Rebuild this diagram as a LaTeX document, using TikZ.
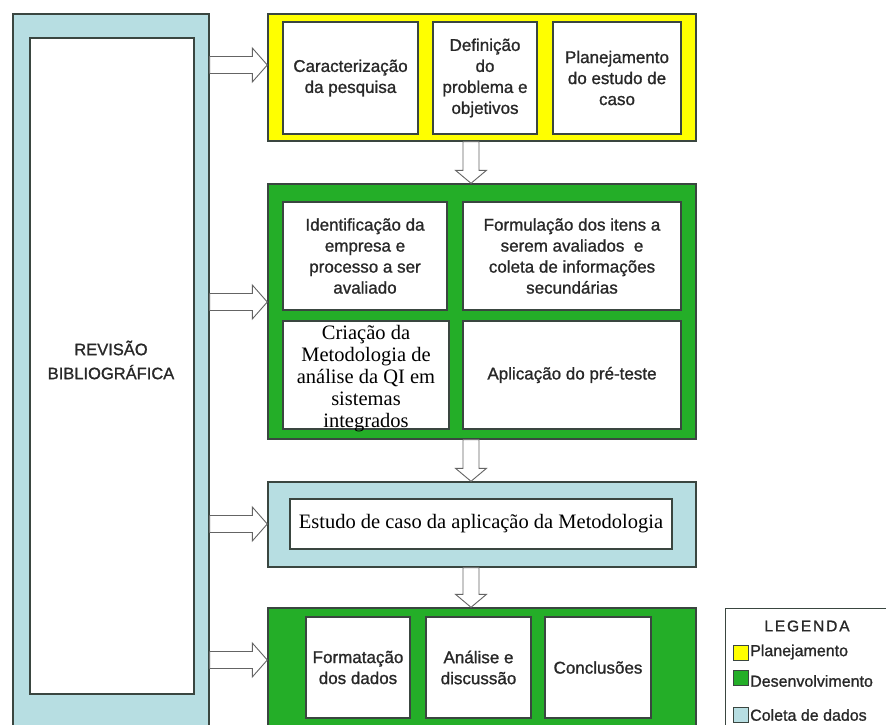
\documentclass[tikz,border=0pt]{standalone}
\usepackage{fontspec}
\setmainfont{Liberation Sans}
\newfontfamily\grosso[FakeBold=1.1]{Liberation Sans}
\newfontfamily\serifa{Liberation Serif}
\usepackage{xcolor}
\usetikzlibrary{positioning,calc}

\definecolor{amarelo}{RGB}{255,255,0}
\definecolor{verde}{RGB}{36,174,40}
\definecolor{azulclaro}{RGB}{183,222,226}
\definecolor{borda}{RGB}{58,70,64}
\definecolor{cinzaseta}{RGB}{100,100,100}
\definecolor{texto}{RGB}{40,40,40}

% seta larga para a direita (inicio, ponta)
\newcommand{\setadir}[2]{%
  \draw[seta] let \p1=(#1), \p2=(#2) in
    (\x1,\y1+8.5pt) -- (\x2-15pt,\y1+8.5pt) -- (\x2-15pt,\y1+17pt) -- (\x2,\y1)
    -- (\x2-15pt,\y1-17pt) -- (\x2-15pt,\y1-8.5pt) -- (\x1,\y1-8.5pt) -- cycle;}
% seta larga para baixo (inicio, ponta)
\newcommand{\setabaixo}[2]{%
  \draw[seta] let \p1=(#1), \p2=(#2) in
    (\x1-8pt,\y1) -- (\x1-8pt,\y2+13pt) -- (\x1-15.5pt,\y2+13pt) -- (\x1,\y2)
    -- (\x1+15.5pt,\y2+13pt) -- (\x1+8pt,\y2+13pt) -- (\x1+8pt,\y1) -- cycle;}

\begin{document}
\begin{tikzpicture}[x=1pt,y=-1pt, line join=miter,
    font=\grosso\fontsize{17}{21}\selectfont]
  \useasboundingbox (0,0) rectangle (886,725);
  \clip (0,0) rectangle (886,725);
  \fill[white] (0,0) rectangle (886,725);

  % ===== estilos =====
  \tikzset{externo/.style={draw=borda, line width=1.4pt, inner sep=0pt},
           interno/.style={draw=borda, fill=white, line width=1.4pt, inner sep=0pt,
                           align=center, text=texto, minimum height=112pt},
           serif/.style={font=\serifa\fontsize{20.5}{22}\selectfont, text=black},
           seta/.style={draw=cinzaseta, fill=white, line width=0.9pt},
           amostra/.style={draw=borda, line width=0.9pt, minimum size=15pt, inner sep=0pt},
           legtexto/.style={anchor=west, inner sep=0pt, text=texto,
                            font=\grosso\fontsize{16}{18}\selectfont}}

  % ===== revisao bibliografica =====
  \node[externo, fill=azulclaro, minimum width=196pt, minimum height=731pt] (rev) at (111,379.5) {};
  \node[interno, minimum width=164pt, minimum height=656pt] (revi) at (112,366) {};
  \node[align=center, text=texto, font=\grosso\fontsize{16.5}{24}\selectfont] (revt) at (111,360)
    {REVISÃO\\BIBLIOGRÁFICA};

  % ===== planejamento =====
  \node[externo, fill=amarelo, minimum width=428pt, minimum height=127pt] (yel) at (482,77.5) {};
  \node[interno, minimum width=135pt] (c1) at (350.5,78) {Caracterização\\da pesquisa};
  \node[interno, minimum width=104pt] (c2) at (485,78) {Definição\\do\\problema e\\objetivos};
  \node[interno, minimum width=128pt] (c3) at (617,78) {Planejamento\\do estudo de\\caso};

  % ===== desenvolvimento 1 =====
  \node[externo, fill=verde, minimum width=428pt, minimum height=255pt] (gr1) at (482,311.5) {};
  \node[interno, minimum width=164pt, minimum height=108pt] (i1) at (365,256)
    {Identificação da\\empresa e\\processo a ser\\avaliado};
  \node[interno, minimum width=218pt, minimum height=108pt] (i2) at (572,256)
    {Formulação dos itens a\\serem avaliados \ e\\coleta de informações\\secundárias};
  \node[interno, minimum width=166pt, minimum height=108pt] (i3) at (366,375) {};
  \node[serif, align=center, inner sep=0pt] (i3t) at (366,378.5)
    {Criação da\\Metodologia de\\análise da QI em\\sistemas\\integrados};
  \node[interno, minimum width=218pt, minimum height=108pt] (i4) at (572,375)
    {Aplicação do pré-teste};

  % ===== coleta de dados =====
  \node[externo, fill=azulclaro, minimum width=428pt, minimum height=85pt] (lb) at (482,524.5) {};
  \node[interno, serif, minimum width=382pt, minimum height=50pt] (lbi) at (481,524)
    {Estudo de caso da aplicação da Metodologia};

  % ===== desenvolvimento 2 =====
  \node[externo, fill=verde, minimum width=428pt, minimum height=137pt] (gr2) at (482,676.5) {};
  \node[interno, minimum width=104pt, minimum height=101pt] (f1) at (358,667.5) {Formatação\\dos dados};
  \node[interno, minimum width=105pt, minimum height=101pt] (f2) at (478.5,667.5) {Análise e\\discussão};
  \node[interno, minimum width=106pt, minimum height=101pt] (f3) at (598,667.5) {Conclusões};

  % ===== setas =====
  \coordinate (s1) at (0,65);
  \coordinate (s2) at (0,302);
  \coordinate (s3) at (0,524);
  \coordinate (s4) at (0,660);
  \coordinate (eixo) at (471,0);
  \setadir{rev.east |- s1}{yel.west |- s1}
  \setadir{rev.east |- s2}{gr1.west |- s2}
  \setadir{rev.east |- s3}{lb.west |- s3}
  \setadir{rev.east |- s4}{gr2.west |- s4}
  \setabaixo{eixo |- yel.south}{eixo |- gr1.north}
  \setabaixo{eixo |- gr1.south}{eixo |- lb.north}
  \setabaixo{eixo |- lb.south}{eixo |- gr2.north}

  % ===== legenda =====
  \node[draw=borda, line width=1pt, fill=white, minimum width=180pt, minimum height=140pt,
        anchor=north west] (leg) at (725,608) {};
  \node[text=texto, font=\grosso\fontsize{15.5}{18}\selectfont] (legt) at (807,626)
    {\addfontfeature{LetterSpace=12}LEGENDA};
  \node[amostra, fill=amarelo] (am1) at (740.5,652.5) {};
  \node[amostra, fill=verde] (am2) at (740.5,677.5) {};
  \node[amostra, fill=azulclaro] (am3) at (740.5,714.5) {};
  \node[legtexto] (lt1) at (750,652) {Planejamento};
  \node[legtexto] (lt2) at (750,681) {Desenvolvimento};
  \node[legtexto] (lt3) at (750,715) {Coleta de dados};
\end{tikzpicture}
\end{document}
